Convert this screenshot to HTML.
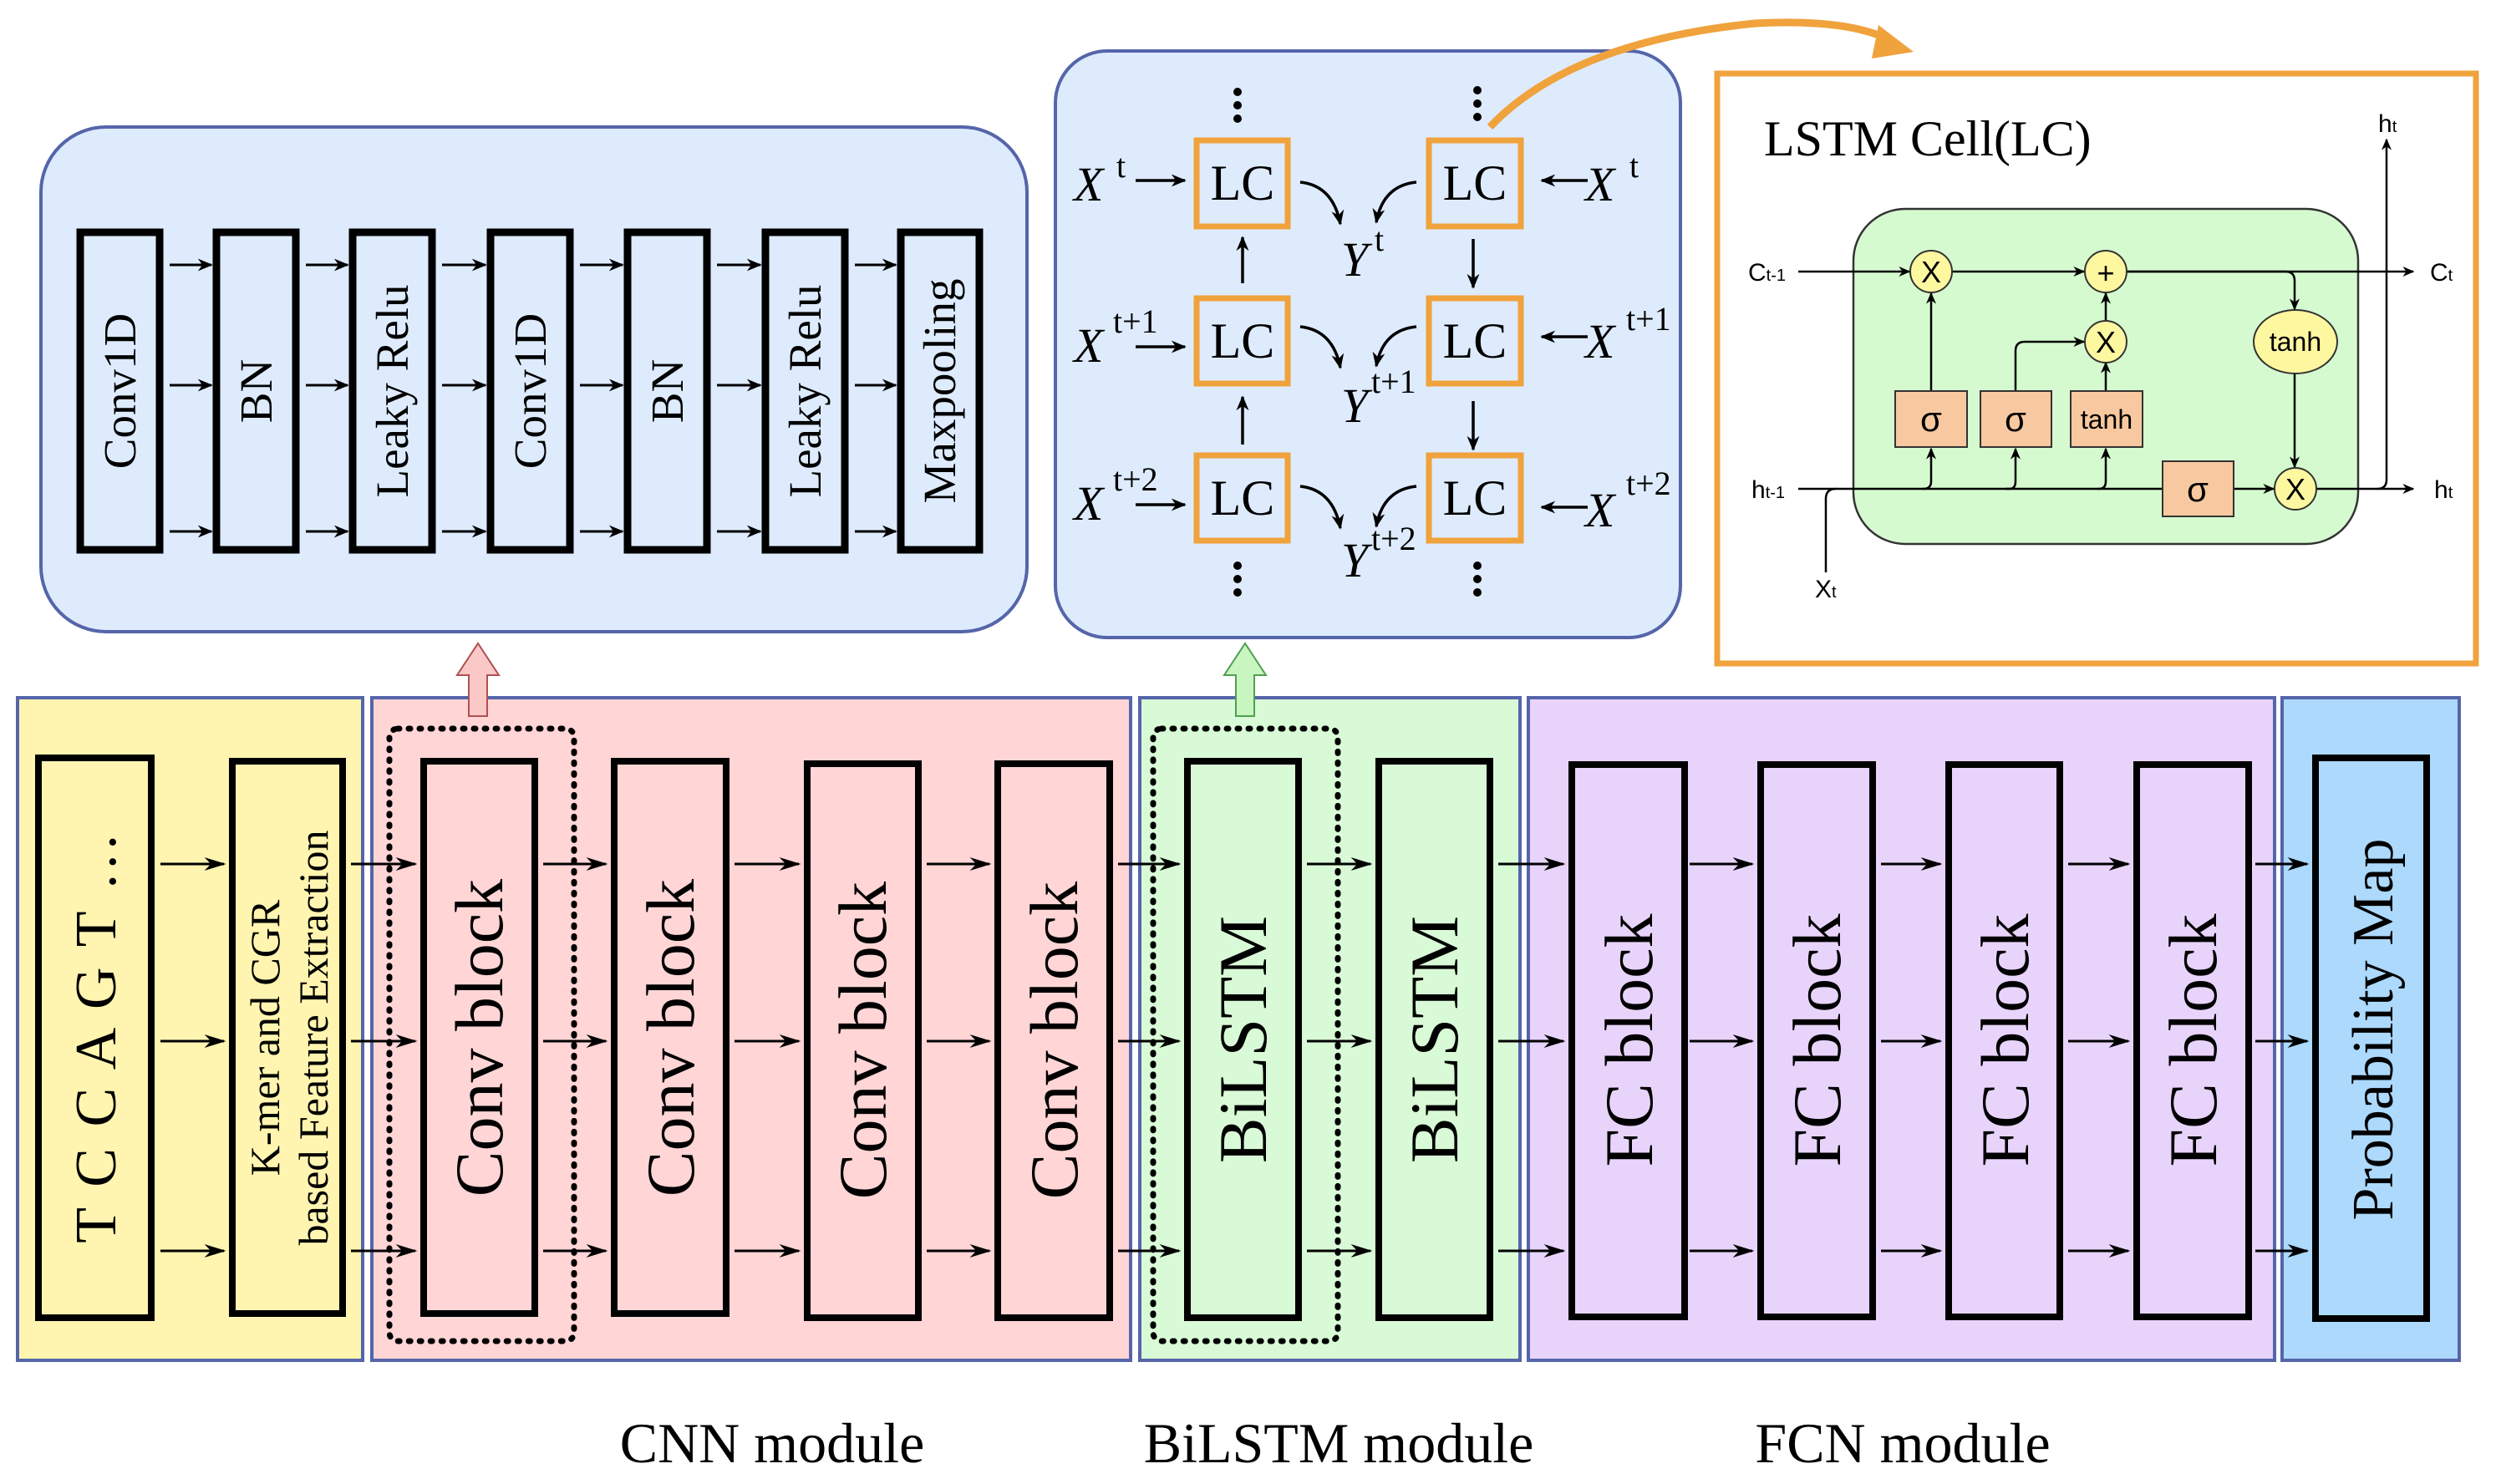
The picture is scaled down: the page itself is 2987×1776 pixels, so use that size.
<!DOCTYPE html>
<html><head><meta charset="utf-8"><style>
html,body{margin:0;padding:0;background:#fff}
svg{display:block}
text{font-family:"Liberation Serif",serif;fill:#000}
</style></head><body>
<svg width="2987" height="1776" viewBox="0 0 2987 1776" xmlns="http://www.w3.org/2000/svg">
<defs>
<marker id="ah" viewBox="0 0 10 10" refX="9" refY="5" markerWidth="14" markerHeight="12" orient="auto" markerUnits="userSpaceOnUse" preserveAspectRatio="none">
<path d="M0,0 L10,5 L0,10 L3,5 Z" fill="#000"/></marker>
<marker id="a2" viewBox="0 0 10 10" refX="9" refY="5" markerWidth="26" markerHeight="16" orient="auto" markerUnits="userSpaceOnUse" preserveAspectRatio="none">
<path d="M0,0 L10,5 L0,10 L3,5 Z" fill="#000"/></marker>
<marker id="a3" viewBox="0 0 10 10" refX="9" refY="5" markerWidth="18" markerHeight="15" orient="auto" markerUnits="userSpaceOnUse" preserveAspectRatio="none">
<path d="M0,0 L10,5 L0,10 L3,5 Z" fill="#000"/></marker>
</defs>

<rect x="21" y="835" width="413" height="793" fill="#fff5b0" stroke="#5565aa" stroke-width="4"/>
<rect x="445" y="835" width="908" height="793" fill="#ffd5d6" stroke="#5565aa" stroke-width="4"/>
<rect x="1364" y="835" width="455" height="793" fill="#d9fad6" stroke="#5565aa" stroke-width="4"/>
<rect x="1829" y="835" width="893" height="793" fill="#e8d4fb" stroke="#5565aa" stroke-width="4"/>
<rect x="2731" y="835" width="212" height="793" fill="#acd9fc" stroke="#5565aa" stroke-width="4"/>

<g fill="none" stroke="#000" stroke-width="8">
<rect x="46" y="907" width="135" height="670"/>
<rect x="278" y="911" width="132" height="661"/>
<rect x="507" y="911" width="133" height="661"/>
<rect x="735" y="911" width="134" height="661"/>
<rect x="966" y="914" width="133" height="663"/>
<rect x="1194" y="914" width="134" height="663"/>
<rect x="1421" y="911" width="133" height="666"/>
<rect x="1650" y="911" width="133" height="666"/>
<rect x="1881" y="915" width="135" height="661"/>
<rect x="2107" y="915" width="134" height="661"/>
<rect x="2332" y="915" width="133" height="661"/>
<rect x="2557" y="915" width="134" height="661"/>
<rect x="2771" y="907" width="133" height="671"/>
</g>
<rect x="466" y="872" width="221" height="733" rx="10" fill="none" stroke="#000" stroke-width="7" stroke-dasharray="2 11" stroke-linecap="round"/>
<rect x="1380" y="872" width="221" height="733" rx="10" fill="none" stroke="#000" stroke-width="7" stroke-dasharray="2 11" stroke-linecap="round"/>

<g stroke="#000" stroke-width="3" marker-end="url(#a2)">
<path d="M192 1034H268"/><path d="M192 1246H268"/><path d="M192 1497H268"/>
<path d="M420 1034H497"/><path d="M420 1246H497"/><path d="M420 1497H497"/>
<path d="M650 1034H725"/><path d="M650 1246H725"/><path d="M650 1497H725"/>
<path d="M879 1034H956"/><path d="M879 1246H956"/><path d="M879 1497H956"/>
<path d="M1109 1034H1184"/><path d="M1109 1246H1184"/><path d="M1109 1497H1184"/>
<path d="M1338 1034H1411"/><path d="M1338 1246H1411"/><path d="M1338 1497H1411"/>
<path d="M1564 1034H1640"/><path d="M1564 1246H1640"/><path d="M1564 1497H1640"/>
<path d="M1793 1034H1871"/><path d="M1793 1246H1871"/><path d="M1793 1497H1871"/>
<path d="M2022 1034H2097"/><path d="M2022 1246H2097"/><path d="M2022 1497H2097"/>
<path d="M2251 1034H2322"/><path d="M2251 1246H2322"/><path d="M2251 1497H2322"/>
<path d="M2475 1034H2547"/><path d="M2475 1246H2547"/><path d="M2475 1497H2547"/>
<path d="M2699 1034H2761"/><path d="M2699 1246H2761"/><path d="M2699 1497H2761"/>
</g>

<text transform="translate(138,1240) rotate(-90)" font-size="70" text-anchor="middle" letter-spacing="4">T C C A G T …</text>
<g font-size="50" text-anchor="middle">
<text transform="translate(334,1242) rotate(-90)">K-mer and CGR</text>
<text transform="translate(392,1242) rotate(-90)">based Feature Extraction</text>
</g>
<g font-size="82" text-anchor="middle">
<text transform="translate(601,1242) rotate(-90)">Conv block</text>
<text transform="translate(830,1242) rotate(-90)">Conv block</text>
<text transform="translate(1060,1245) rotate(-90)">Conv block</text>
<text transform="translate(1289,1245) rotate(-90)">Conv block</text>
<text transform="translate(1515,1244) rotate(-90)">BiLSTM</text>
<text transform="translate(1744,1244) rotate(-90)">BiLSTM</text>
<text transform="translate(1977,1245) rotate(-90)">FC block</text>
<text transform="translate(2202,1245) rotate(-90)">FC block</text>
<text transform="translate(2427,1245) rotate(-90)">FC block</text>
<text transform="translate(2652,1245) rotate(-90)">FC block</text>
</g>
<text transform="translate(2863,1232) rotate(-90)" font-size="70" text-anchor="middle">Probability Map</text>

<g font-size="68" text-anchor="middle">
<text x="924" y="1750">CNN module</text>
<text x="1602" y="1750">BiLSTM module</text>
<text x="2277" y="1750">FCN module</text>
</g>

<path d="M561 857V808H547L572 770L597 808H583V857Z" fill="#fbc8c8" stroke="#b05050" stroke-width="2"/>
<path d="M1479 857V808H1465L1490 770L1515 808H1501V857Z" fill="#c8f5c0" stroke="#50a050" stroke-width="2"/>

<rect x="49" y="152" width="1180" height="604" rx="78" fill="#deebfd" stroke="#5565aa" stroke-width="4"/>
<g fill="none" stroke="#000" stroke-width="9">
<rect x="96" y="278" width="95" height="380"/>
<rect x="259" y="278" width="95" height="380"/>
<rect x="422" y="278" width="95" height="380"/>
<rect x="587" y="278" width="95" height="380"/>
<rect x="751" y="278" width="95" height="380"/>
<rect x="916" y="278" width="95" height="380"/>
<rect x="1078" y="278" width="94" height="380"/>
</g>
<g stroke="#000" stroke-width="3" marker-end="url(#a3)">
<path d="M203 317H253"/><path d="M203 461H253"/><path d="M203 636H253"/>
<path d="M366 317H416"/><path d="M366 461H416"/><path d="M366 636H416"/>
<path d="M529 317H581"/><path d="M529 461H581"/><path d="M529 636H581"/>
<path d="M694 317H745"/><path d="M694 461H745"/><path d="M694 636H745"/>
<path d="M858 317H910"/><path d="M858 461H910"/><path d="M858 636H910"/>
<path d="M1023 317H1072"/><path d="M1023 461H1072"/><path d="M1023 636H1072"/>
</g>
<g font-size="55" text-anchor="middle">
<text transform="translate(162,468) rotate(-90)">Conv1D</text>
<text transform="translate(325,468) rotate(-90)">BN</text>
<text transform="translate(488,468) rotate(-90)">Leaky Relu</text>
<text transform="translate(653,468) rotate(-90)">Conv1D</text>
<text transform="translate(817,468) rotate(-90)">BN</text>
<text transform="translate(982,468) rotate(-90)">Leaky Relu</text>
<text transform="translate(1143,468) rotate(-90)">Maxpooling</text>
</g>

<rect x="1263" y="61" width="748" height="702" rx="62" fill="#deebfd" stroke="#5565aa" stroke-width="4"/>
<g fill="none" stroke="#f0a23c" stroke-width="7">
<rect x="1432" y="168" width="109" height="103"/>
<rect x="1432" y="357" width="109" height="102"/>
<rect x="1432" y="545" width="109" height="102"/>
<rect x="1710" y="168" width="110" height="103"/>
<rect x="1710" y="357" width="110" height="102"/>
<rect x="1710" y="545" width="110" height="102"/>
</g>
<g font-size="60" text-anchor="middle">
<text x="1487" y="239">LC</text><text x="1487" y="428">LC</text><text x="1487" y="616">LC</text>
<text x="1765" y="239">LC</text><text x="1765" y="428">LC</text><text x="1765" y="616">LC</text>
</g>
<g fill="#000">
<circle cx="1481" cy="110" r="5"/><circle cx="1481" cy="126" r="5"/><circle cx="1481" cy="142" r="5"/>
<circle cx="1768" cy="108" r="5"/><circle cx="1768" cy="124" r="5"/><circle cx="1768" cy="140" r="5"/>
<circle cx="1481" cy="677" r="5"/><circle cx="1481" cy="693" r="5"/><circle cx="1481" cy="709" r="5"/>
<circle cx="1768" cy="677" r="5"/><circle cx="1768" cy="693" r="5"/><circle cx="1768" cy="709" r="5"/>
</g>
<g font-size="58" font-style="italic">
<text x="1285" y="240">X</text><text x="1285" y="433">X</text><text x="1285" y="622">X</text>
<text x="1897" y="240">X</text><text x="1897" y="428">X</text><text x="1897" y="630">X</text>
<text x="1605" y="330">Y</text><text x="1605" y="505">Y</text><text x="1605" y="690">Y</text>
</g>
<g font-size="40">
<text x="1336" y="212">t</text><text x="1332" y="398">t+1</text><text x="1332" y="587">t+2</text>
<text x="1950" y="212">t</text><text x="1946" y="395">t+1</text><text x="1946" y="592">t+2</text>
<text x="1645" y="300">t</text><text x="1641" y="470">t+1</text><text x="1641" y="658">t+2</text>
</g>
<g stroke="#000" stroke-width="3.5" fill="none" marker-end="url(#a3)">
<path d="M1359 216H1418"/><path d="M1359 415H1418"/><path d="M1359 604H1418"/>
<path d="M1900 216H1845"/><path d="M1900 403H1845"/><path d="M1900 607H1845"/>
<path d="M1487 339V284"/><path d="M1487 532V475"/>
<path d="M1763 286V344"/><path d="M1763 480V538"/>
<path d="M1556 218Q1595 222 1604 268"/><path d="M1556 391Q1595 395 1604 440"/><path d="M1556 582Q1595 586 1604 632"/>
<path d="M1695 218Q1655 222 1647 266"/><path d="M1695 391Q1655 395 1647 438"/><path d="M1695 582Q1655 586 1647 630"/>
</g>

<path d="M1783 152Q1880 50 2100 28Q2210 22 2262 48" fill="none" stroke="#f0a23c" stroke-width="9"/>
<path d="M2248 30L2290 62L2240 70Z" fill="#f0a23c"/>

<rect x="2055" y="88" width="908" height="706" fill="#fff" stroke="#f0a23c" stroke-width="7"/>
<text x="2111" y="186" font-size="60">LSTM Cell(LC)</text>
<rect x="2218" y="250" width="604" height="401" rx="62" fill="#d6fad0" stroke="#333" stroke-width="2.5"/>
<g stroke="#000" stroke-width="2.5" fill="none">
<path d="M2152 325H2285" marker-end="url(#ah)"/>
<path d="M2336 325H2494" marker-end="url(#ah)"/>
<path d="M2545 325H2888" marker-end="url(#ah)"/>
<path d="M2545 325H2735Q2746 325 2746 336V370" marker-end="url(#ah)"/>
<path d="M2746 447V559" marker-end="url(#ah)"/>
<path d="M2311 468V351" marker-end="url(#ah)"/>
<path d="M2520 384V351" marker-end="url(#ah)"/>
<path d="M2520 468V434" marker-end="url(#ah)"/>
<path d="M2412 468V420Q2412 409 2423 409H2494" marker-end="url(#ah)"/>
<path d="M2152 585H2302Q2311 585 2311 576V537" marker-end="url(#ah)"/>
<path d="M2300 585H2405Q2412 585 2412 576V537" marker-end="url(#ah)"/>
<path d="M2400 585H2512Q2520 585 2520 576V537" marker-end="url(#ah)"/>
<path d="M2510 585H2588"/>
<path d="M2673 585H2721" marker-end="url(#ah)"/>
<path d="M2772 585H2888" marker-end="url(#ah)"/>
<path d="M2185 685V597Q2185 585 2197 585"/>
<path d="M2845 585Q2856 585 2856 574V167" marker-end="url(#ah)"/>
</g>
<g stroke="#333" stroke-width="2">
<rect x="2268" y="468" width="86" height="67" fill="#f8c9a0"/>
<rect x="2370" y="468" width="85" height="67" fill="#f8c9a0"/>
<rect x="2478" y="468" width="86" height="67" fill="#f8c9a0"/>
<rect x="2588" y="552" width="85" height="66" fill="#f8c9a0"/>
<circle cx="2311" cy="325" r="25" fill="#fdf7a0"/>
<circle cx="2520" cy="325" r="25" fill="#fdf7a0"/>
<circle cx="2520" cy="409" r="25" fill="#fdf7a0"/>
<circle cx="2747" cy="585" r="25" fill="#fdf7a0"/>
<ellipse cx="2747" cy="409" rx="50" ry="38" fill="#fdf7a0"/>
</g>
<g font-size="36" text-anchor="middle">
<text x="2311" y="338" style="font-family:'Liberation Sans',sans-serif">X</text>
<text x="2520" y="339" style="font-family:'Liberation Sans',sans-serif">+</text>
<text x="2520" y="422" style="font-family:'Liberation Sans',sans-serif">X</text>
<text x="2747" y="598" style="font-family:'Liberation Sans',sans-serif">X</text>
<text x="2747" y="420" font-size="32" style="font-family:'Liberation Sans',sans-serif">tanh</text>
<text x="2521" y="513" font-size="32" style="font-family:'Liberation Sans',sans-serif">tanh</text>
<text x="2311" y="516" font-size="42" style="font-family:'Liberation Sans',sans-serif">σ</text>
<text x="2412" y="516" font-size="42" style="font-family:'Liberation Sans',sans-serif">σ</text>
<text x="2630" y="600" font-size="42" style="font-family:'Liberation Sans',sans-serif">σ</text>
</g>
<g font-size="30">
<text x="2092" y="336" style="font-family:'Liberation Sans',sans-serif">C<tspan font-size="20">t-1</tspan></text>
<text x="2908" y="336" style="font-family:'Liberation Sans',sans-serif">C<tspan font-size="20">t</tspan></text>
<text x="2096" y="596" style="font-family:'Liberation Sans',sans-serif">h<tspan font-size="20">t-1</tspan></text>
<text x="2913" y="596" style="font-family:'Liberation Sans',sans-serif">h<tspan font-size="20">t</tspan></text>
<text x="2846" y="158" style="font-family:'Liberation Sans',sans-serif">h<tspan font-size="20">t</tspan></text>
<text x="2172" y="715" style="font-family:'Liberation Sans',sans-serif">X<tspan font-size="20">t</tspan></text>
</g>
</svg>
</body></html>
